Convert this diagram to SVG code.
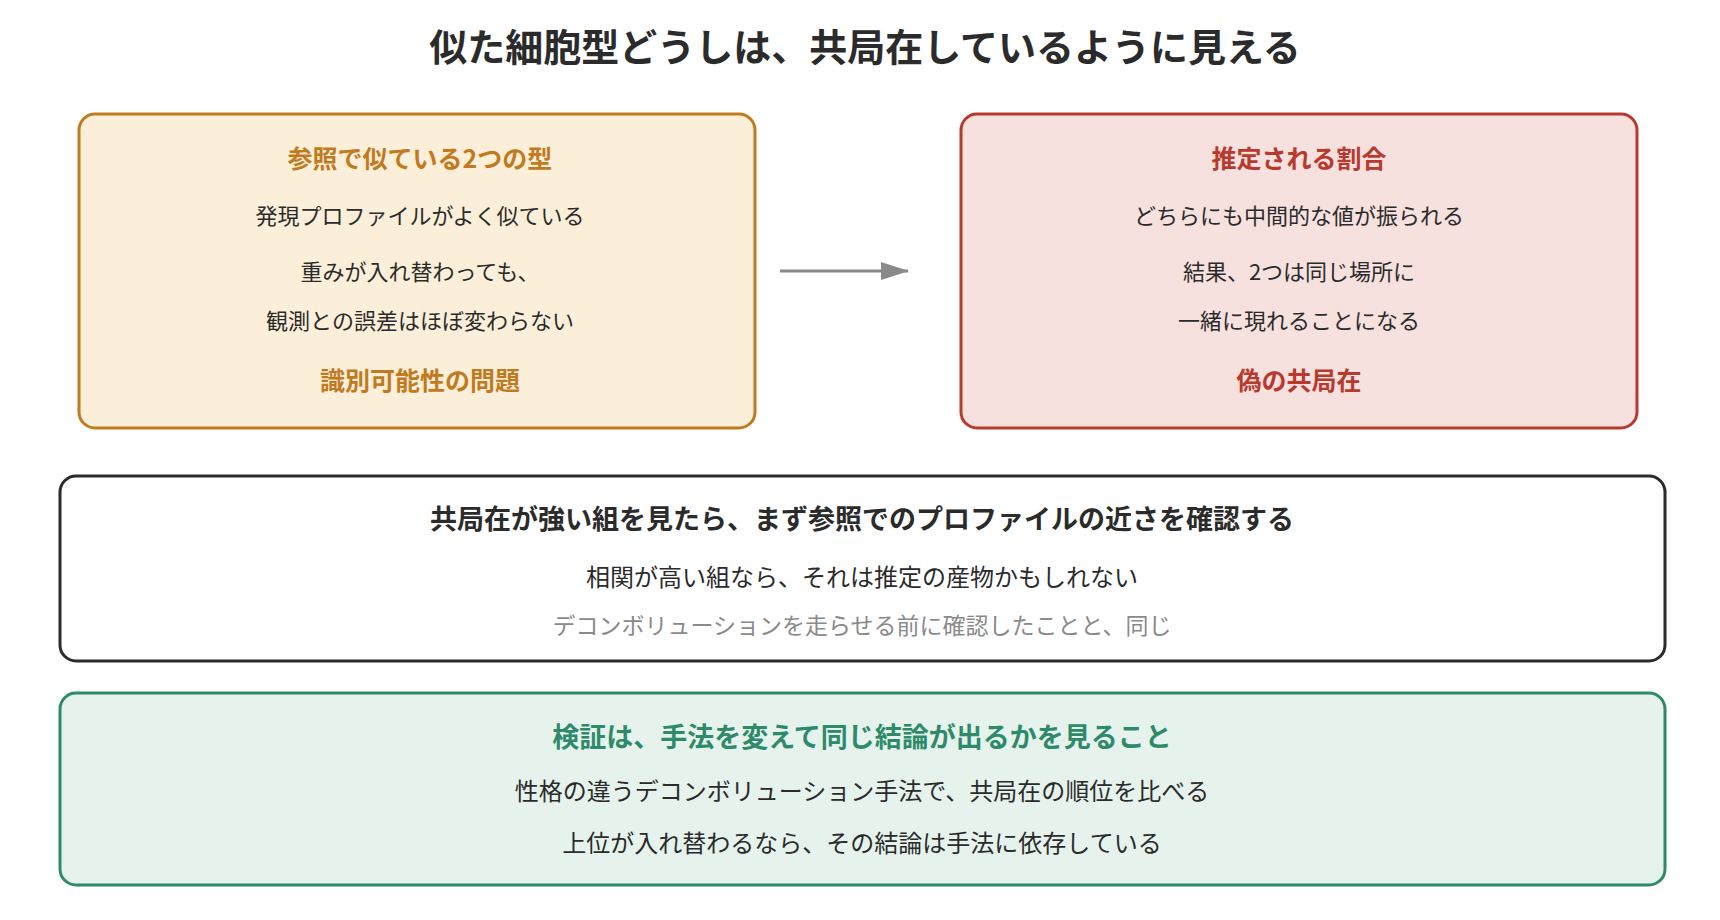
<svg xmlns="http://www.w3.org/2000/svg" width="1720" height="920" viewBox="0 0 1720 920">
<style>
text{font-family:"Noto Sans CJK JP","Noto Sans",sans-serif;text-anchor:middle;dominant-baseline:central}
.t{font-size:38px;font-weight:700;fill:#2b2b2b}
.h{font-size:25px;font-weight:700}
.h2{font-size:27px;font-weight:700}
.b{font-size:22px;fill:#2b2b2b}
.b2{font-size:24px;fill:#2b2b2b}
.g{font-size:23px;fill:#8a8a8a}
.box{stroke-width:3}
</style>
<defs><marker id="ah" markerWidth="28" markerHeight="18" refX="27" refY="9" orient="auto" markerUnits="userSpaceOnUse"><path d="M0,0 L28,9 L0,18 Z" fill="#8a8a8a"/></marker></defs>
<rect width="1720" height="920" fill="#fff"/>
<text class="t" x="865" y="44">似た細胞型どうしは、共局在しているように見える</text>
<g id="n1">
<rect class="box" x="79" y="114" width="676" height="314" rx="16" fill="#fcefd9" stroke="#c27a1e"/>
<text class="h" x="420" y="157" fill="#c27a1e">参照で似ている2つの型</text>
<text class="b" x="420" y="214">発現プロファイルがよく似ている</text>
<text class="b" x="420" y="270">重みが入れ替わっても、</text>
<text class="b" x="420" y="319">観測との誤差はほぼ変わらない</text>
<text class="h" x="420" y="379" fill="#c27a1e">識別可能性の問題</text>
</g>
<g id="n2">
<rect class="box" x="961" y="114" width="676" height="314" rx="16" fill="#f6e1df" stroke="#b83a2e"/>
<text class="h" x="1299" y="157" fill="#b83a2e">推定される割合</text>
<text class="b" x="1299" y="214">どちらにも中間的な値が振られる</text>
<text class="b" x="1299" y="270">結果、2つは同じ場所に</text>
<text class="b" x="1299" y="319">一緒に現れることになる</text>
<text class="h" x="1299" y="379" fill="#b83a2e">偽の共局在</text>
</g>
<g id="n3">
<rect class="box" x="60" y="476" width="1605" height="185" rx="16" fill="#fff" stroke="#2b2b2b"/>
<text class="h2" x="862" y="517" fill="#2b2b2b">共局在が強い組を見たら、まず参照でのプロファイルの近さを確認する</text>
<text class="b2" x="862" y="575">相関が高い組なら、それは推定の産物かもしれない</text>
<text class="g" x="862" y="624">デコンボリューションを走らせる前に確認したことと、同じ</text>
</g>
<g id="n4">
<rect class="box" x="60" y="693" width="1605" height="192" rx="16" fill="#e6f3ec" stroke="#2e8a6a"/>
<text class="h2" x="862" y="735" fill="#2e8a6a">検証は、手法を変えて同じ結論が出るかを見ること</text>
<text class="b2" x="862" y="789">性格の違うデコンボリューション手法で、共局在の順位を比べる</text>
<text class="b2" x="862" y="841">上位が入れ替わるなら、その結論は手法に依存している</text>
</g>
<g id="connectors">
<line x1="780" y1="271" x2="908" y2="271" stroke="#8a8a8a" stroke-width="3" marker-end="url(#ah)"/>
</g>
</svg>
